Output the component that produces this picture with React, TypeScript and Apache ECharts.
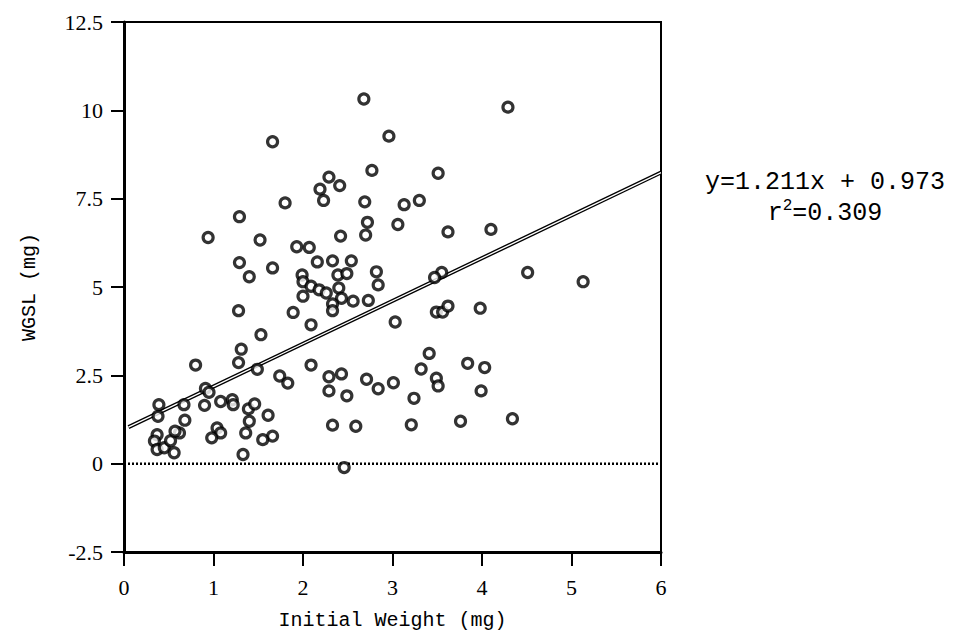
import React, { useEffect, useRef } from "react";
import * as echarts from "echarts";

const initialWeight: number[] = [
  1.66, 1.80, 1.29, 0.94, 1.52, 1.93,
  1.29, 1.66, 1.40, 1.28, 1.53, 1.31, 0.80, 1.28, 1.49, 1.74, 1.83, 0.91, 0.95,
  0.39, 0.38, 0.67, 0.68, 0.90, 1.08, 1.21, 1.22, 1.39, 1.46, 1.40, 1.61, 1.36,
  1.66, 1.55, 1.33, 1.04, 1.08, 0.98,
  0.37, 0.34, 0.37, 0.45, 0.52, 0.56, 0.62, 0.57,
  2.68, 2.96, 2.77, 3.51, 2.29, 2.19, 2.41, 2.23, 2.69, 3.13, 3.30, 2.72, 3.06,
  2.70, 2.42, 3.62, 2.07,
  2.16, 2.33, 2.54, 1.99, 2.00, 2.09, 2.18, 2.26, 2.39, 2.49, 2.82, 2.84, 2.40,
  2.43, 2.56, 2.73, 2.33, 2.33, 2.00, 1.89, 2.09, 3.03, 3.49, 3.56, 3.62, 3.55,
  3.47, 2.09, 2.29, 2.43, 2.29, 2.49, 2.71, 2.84, 3.01, 3.41, 3.32, 3.49, 3.51,
  3.24, 3.84, 2.33, 2.59, 3.21, 3.76, 2.46,
  4.29, 4.10, 4.51, 5.13, 3.98, 4.03, 3.99, 4.34,
];

const wgsl: number[] = [
  9.11, 7.38, 6.99, 6.40, 6.33, 6.14,
  5.69, 5.54, 5.29, 4.33, 3.65, 3.24, 2.79, 2.86, 2.67, 2.48, 2.28, 2.13, 2.02,
  1.67, 1.34, 1.67, 1.23, 1.65, 1.76, 1.81, 1.67, 1.55, 1.69, 1.20, 1.37, 0.87,
  0.78, 0.68, 0.26, 1.01, 0.87, 0.73,
  0.82, 0.64, 0.40, 0.45, 0.65, 0.31, 0.87, 0.92,
  10.32, 9.27, 8.30, 8.22, 8.11, 7.77, 7.87, 7.45, 7.41, 7.33, 7.45, 6.83, 6.77,
  6.47, 6.44, 6.56, 6.12,
  5.71, 5.74, 5.74, 5.34, 5.15, 5.02, 4.92, 4.83, 5.34, 5.38, 5.43, 5.06, 4.97,
  4.68, 4.60, 4.62, 4.52, 4.33, 4.74, 4.28, 3.93, 4.01, 4.29, 4.29, 4.46, 5.41,
  5.27, 2.79, 2.46, 2.54, 2.06, 1.92, 2.39, 2.12, 2.29, 3.12, 2.68, 2.42, 2.20,
  1.85, 2.84, 1.09, 1.06, 1.10, 1.20, -0.11,
  10.09, 6.63, 5.41, 5.15, 4.40, 2.72, 2.06, 1.27,
];

const fitSlope = 1.211;
const fitIntercept = 0.973;
const fitR2 = 0.309;
const fitRange: number[] = [0.05, 6];
const zeroRange: number[] = [0, 6];

const xTicks: number[] = [0, 1, 2, 3, 4, 5, 6];
const yTicks: number[] = [-2.5, 0, 2.5, 5, 7.5, 10, 12.5];

export default function App() {
  const ref = useRef<HTMLDivElement>(null);

  useEffect(() => {
    if (!ref.current) return;
    const chart = echarts.init(ref.current, null, { renderer: "svg" });
    const points = initialWeight.map((x, i) => [x, wgsl[i]]);
    const fitLine = fitRange.map((x) => [x, fitSlope * x + fitIntercept]);
    const zeroLine = zeroRange.map((x) => [x, 0]);
    const serif = "Liberation Serif";
    const mono = "Liberation Mono";

    chart.setOption({
      animation: false,
      backgroundColor: "#fff",
      grid: {
        left: 116,
        right: 287,
        top: 14,
        bottom: 74,
        show: true,
        borderColor: "#000",
        borderWidth: 2,
        backgroundColor: "transparent",
      },
      xAxis: {
        type: "value",
        min: xTicks[0],
        max: xTicks[xTicks.length - 1],
        interval: 1,
        name: "Initial Weight (mg)",
        nameLocation: "middle",
        nameGap: 58,
        nameTextStyle: { fontFamily: mono, fontSize: 20, color: "#000" },
        axisLine: { show: true, onZero: false, lineStyle: { color: "#000", width: 3 } },
        axisTick: { show: true, inside: false, length: 14, lineStyle: { color: "#000", width: 2 } },
        axisLabel: { fontFamily: serif, fontSize: 22, color: "#000", margin: 24 },
        splitLine: { show: false },
      },
      yAxis: {
        type: "value",
        min: yTicks[0],
        max: yTicks[yTicks.length - 1],
        interval: 2.5,
        name: "WGSL (mg)",
        nameLocation: "middle",
        nameGap: 85,
        nameRotate: 90,
        nameTextStyle: { fontFamily: mono, fontSize: 20, color: "#000" },
        axisLine: { show: true, onZero: false, lineStyle: { color: "#000", width: 3 } },
        axisTick: { show: true, inside: false, length: 13, lineStyle: { color: "#000", width: 2 } },
        axisLabel: { fontFamily: serif, fontSize: 22, color: "#000", margin: 21 },
        splitLine: { show: false },
      },
      series: [
        {
          type: "line",
          data: zeroLine,
          symbol: "none",
          lineStyle: { color: "#000", width: 2.5, type: [2, 2] },
          z: 2,
        },
        {
          type: "line",
          data: fitLine,
          symbol: "none",
          lineStyle: { color: "#000", width: 4 },
          z: 3,
        },
        {
          type: "line",
          data: fitLine,
          symbol: "none",
          lineStyle: { color: "#fff", width: 1.3 },
          z: 4,
        },
        {
          type: "scatter",
          data: points,
          symbol: "circle",
          symbolSize: 10,
          itemStyle: { color: "#fff", borderColor: "#000", borderWidth: 3.2 },
          z: 5,
        },
      ],
      graphic: [
        {
          type: "text",
          x: 817,
          y: 174,
          style: {
            text: `y=${fitSlope.toFixed(3)}x + ${fitIntercept.toFixed(3)}`,
            fontFamily: mono,
            fontSize: 25,
            fill: "#000",
            align: "center",
            verticalAlign: "middle",
          },
        },
        {
          type: "text",
          x: 817,
          y: 204,
          style: {
            text: "{a|r}{s|2}{a|=" + fitR2.toFixed(3) + "}",
            fill: "#000",
            align: "center",
            verticalAlign: "middle",
            rich: {
              a: { fontFamily: mono, fontSize: 25, fill: "#000", verticalAlign: "bottom", lineHeight: 28 },
              s: { fontFamily: mono, fontSize: 16, fill: "#000", verticalAlign: "top", lineHeight: 28, padding: [0, 0, 12, 0] },
            },
          },
        },
      ],
    });

    return () => chart.dispose();
  }, []);

  return <div ref={ref} style={{ width: 940, height: 627 }} />;
}
